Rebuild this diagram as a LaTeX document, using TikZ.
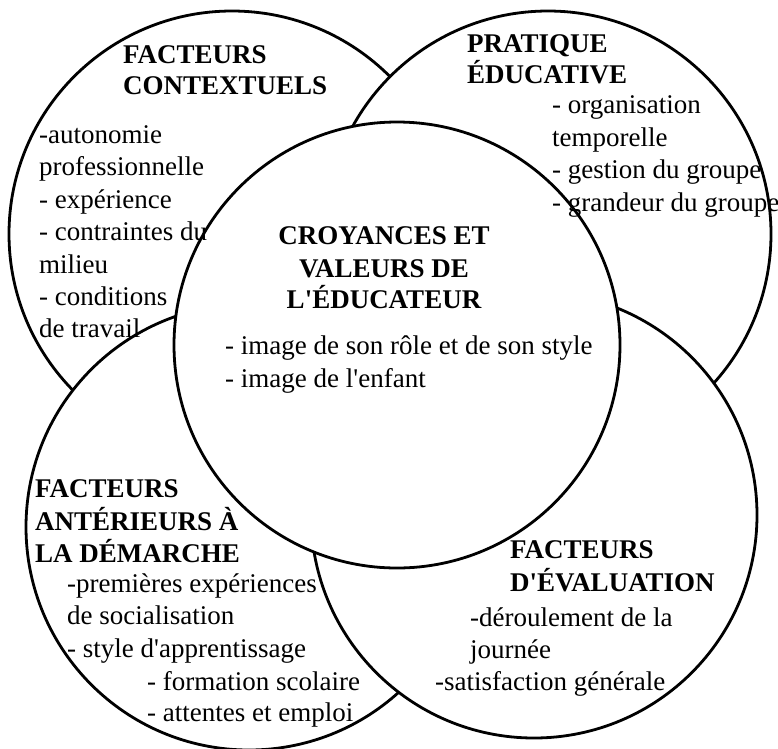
\documentclass[tikz,border=0pt]{standalone}
\usepackage{fontspec}
\setmainfont{Liberation Serif}
\begin{document}
\begin{tikzpicture}[x=1pt,y=-1pt,
  ring/.style={circle, draw=black, fill=white, line width=2.8pt, minimum size=446pt, inner sep=0pt},
  txt/.style={anchor=base west, inner sep=0pt, font=\fontsize{27}{32}\selectfont},
  head/.style={anchor=base west, inner sep=0pt, font=\fontsize{27}{32}\selectfont\bfseries},
  chead/.style={anchor=base, inner sep=0pt, font=\fontsize{27}{32}\selectfont\bfseries}]
\useasboundingbox[fill=white] (0,0) rectangle (778,748);
% circles, drawn in stacking order
\node[ring] (ctl) at (232,234) {};
\node[ring] (ctr) at (548,234) {};
\node[ring] (cbl) at (249,527) {};
\node[ring] (cbr) at (534,515) {};
\node[ring] (cc)  at (397,345) {};
% top left
\node[head] (tlh1) at (123,63) {FACTEURS};
\node[head] (tlh2) at (123,94) {CONTEXTUELS};
\node[txt] (tl1) at (39,143) {-autonomie};
\node[txt] (tl2) at (39,175) {professionnelle};
\node[txt] (tl3) at (39,208) {- expérience};
\node[txt] (tl4) at (39,240) {- contraintes du};
\node[txt] (tl5) at (39,273) {milieu};
\node[txt] (tl6) at (39,305) {- conditions};
\node[txt] (tl7) at (39,337) {de travail};
% top right
\node[head] (trh1) at (467,52) {PRATIQUE};
\node[head] (trh2) at (467,83) {ÉDUCATIVE};
\node[txt] (tr1) at (552,113) {- organisation};
\node[txt] (tr2) at (552,146) {temporelle};
\node[txt] (tr3) at (552,178) {- gestion du groupe};
\node[txt] (tr4) at (552,211) {- grandeur du groupe};
% centre
\node[chead] (ch1) at (384,244) {CROYANCES ET};
\node[chead] (ch2) at (384,277) {VALEURS DE};
\node[chead] (ch3) at (384,308) {L\textquotesingle ÉDUCATEUR};
\node[txt] (c1) at (225,354) {- image de son rôle et de son style};
\node[txt] (c2) at (225,387) {- image de l\textquotesingle enfant};
% bottom left
\node[head] (blh1) at (35,497) {FACTEURS};
\node[head] (blh2) at (35,530) {ANTÉRIEURS À};
\node[head] (blh3) at (35,562) {LA DÉMARCHE};
\node[txt] (bl1) at (67,592) {-premières expériences};
\node[txt] (bl2) at (67,624) {de socialisation};
\node[txt] (bl3) at (67,657) {- style d\textquotesingle apprentissage};
\node[txt] (bl4) at (147,690) {- formation scolaire};
\node[txt] (bl5) at (147,721) {- attentes et emploi};
% bottom right
\node[head] (brh1) at (510,558) {FACTEURS};
\node[head] (brh2) at (510,591) {D\textquotesingle ÉVALUATION};
\node[txt] (br1) at (470,626) {-déroulement de la};
\node[txt] (br2) at (470,658) {journée};
\node[txt] (br3) at (435,690) {-satisfaction générale};
\end{tikzpicture}
\end{document}
